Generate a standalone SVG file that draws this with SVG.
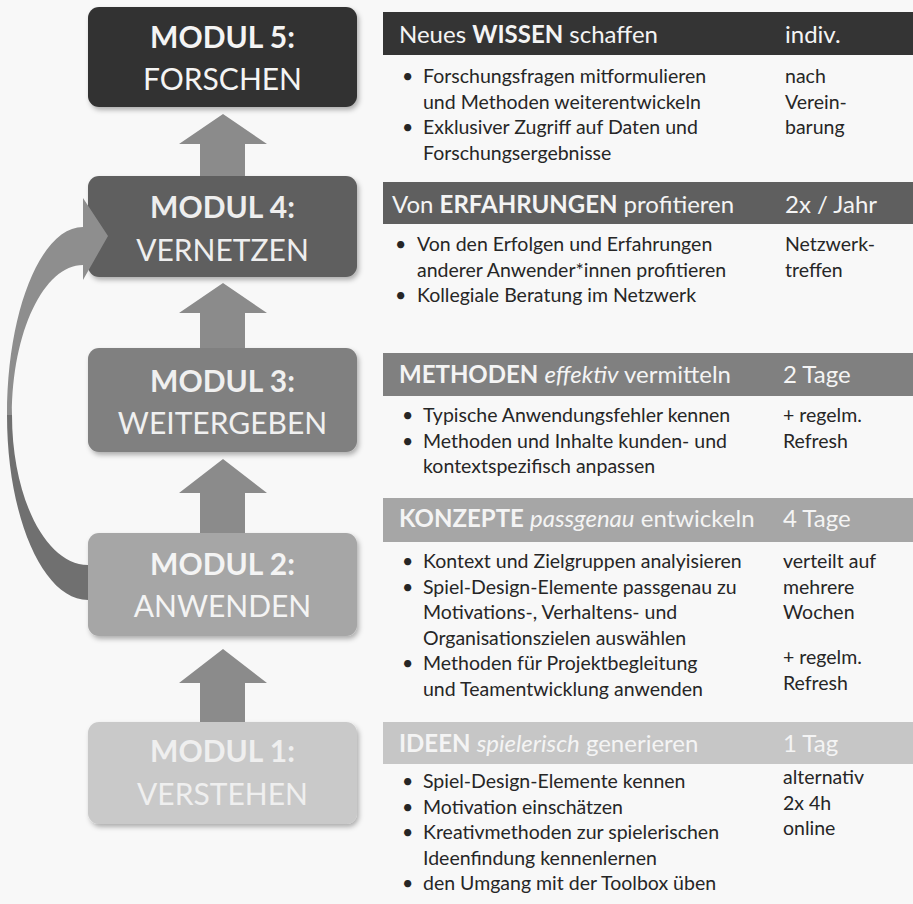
<svg xmlns="http://www.w3.org/2000/svg" width="913" height="904" viewBox="0 0 913 904">
<defs>
<filter id="sh" x="-10%" y="-10%" width="125%" height="140%"><feDropShadow dx="2" dy="3" stdDeviation="2.5" flood-color="#000" flood-opacity="0.3"/></filter>
<style>
.mb{font-family:Lato,"Open Sans",sans-serif;font-weight:bold;font-size:30px;text-anchor:middle}
.mr{font-family:Lato,"Open Sans",sans-serif;font-size:30px;text-anchor:middle}
.hd{font-family:Lato,"Open Sans",sans-serif;font-size:24px;fill:#f4f4f4}
.tx{font-family:Lato,"Open Sans",sans-serif;font-size:19.5px;fill:#262626}
.b{font-weight:bold}
.i{font-style:italic}
.arr{fill:#8b8b8b}
</style>
</defs>
<rect width="913" height="904" fill="#f8f8f8"/>

<g id="modul5">
<rect x="88" y="7" width="269" height="100" rx="11" fill="#333333" filter="url(#sh)"/>
<text class="mb" x="222.5" y="48" fill="#f4f4f4">MODUL 5:</text>
<text class="mr" x="222.5" y="90" fill="#f4f4f4">FORSCHEN</text>
</g>
<g id="modul4">
<rect x="88" y="176" width="269" height="101" rx="11" fill="#5f5f5f" filter="url(#sh)"/>
<text class="mb" x="222.5" y="218" fill="#eeeeee">MODUL 4:</text>
<text class="mr" x="222.5" y="261" fill="#eeeeee">VERNETZEN</text>
</g>
<g id="modul3">
<rect x="88" y="348" width="269" height="104" rx="11" fill="#808080" filter="url(#sh)"/>
<text class="mb" x="222.5" y="392" fill="#f0f0f0">MODUL 3:</text>
<text class="mr" x="222.5" y="434" fill="#f0f0f0">WEITERGEBEN</text>
</g>
<g id="modul2">
<rect x="88" y="533" width="269" height="103" rx="11" fill="#a6a6a6" filter="url(#sh)"/>
<text class="mb" x="222.5" y="575" fill="#f4f4f4">MODUL 2:</text>
<text class="mr" x="222.5" y="617" fill="#f4f4f4">ANWENDEN</text>
</g>
<g id="modul1">
<rect x="88" y="722" width="269" height="102" rx="11" fill="#c9c9c9" filter="url(#sh)"/>
<text class="mb" x="222.5" y="762" fill="#efefef">MODUL 1:</text>
<text class="mr" x="222.5" y="805" fill="#efefef">VERSTEHEN</text>
</g>

<g id="info5">
<rect x="383" y="12" width="530" height="43" fill="#343434"/>
<text class="hd" x="399" y="43">Neues <tspan class="b">WISSEN</tspan> schaffen</text>
<text class="hd" x="785" y="43">indiv.</text>
<text class="tx" x="402" y="83">•</text><text class="tx" x="423" y="83">Forschungsfragen mitformulieren</text>
<text class="tx" x="423" y="108.5">und Methoden weiterentwickeln</text>
<text class="tx" x="402" y="134">•</text><text class="tx" x="423" y="134">Exklusiver Zugriff auf Daten und</text>
<text class="tx" x="423" y="159.5">Forschungsergebnisse</text>
<text class="tx" x="785" y="83">nach</text>
<text class="tx" x="785" y="108.5">Verein-</text>
<text class="tx" x="785" y="134">barung</text>
</g>
<g id="info4">
<rect x="383" y="182" width="530" height="42" fill="#5f5f5f"/>
<text class="hd" x="392" y="213">Von <tspan class="b">ERFAHRUNGEN</tspan> profitieren</text>
<text class="hd" x="785" y="213">2x / Jahr</text>
<text class="tx" x="395" y="251">•</text><text class="tx" x="417" y="251">Von den Erfolgen und Erfahrungen</text>
<text class="tx" x="417" y="276.5">anderer Anwender*innen profitieren</text>
<text class="tx" x="395" y="302">•</text><text class="tx" x="417" y="302">Kollegiale Beratung im Netzwerk</text>
<text class="tx" x="785" y="251">Netzwerk-</text>
<text class="tx" x="785" y="276.5">treffen</text>
</g>
<g id="info3">
<rect x="383" y="353" width="530" height="43" fill="#808080"/>
<text class="hd" x="399" y="383"><tspan class="b">METHODEN</tspan> <tspan class="i">effektiv</tspan> vermitteln</text>
<text class="hd" x="783" y="383">2 Tage</text>
<text class="tx" x="402" y="422">•</text><text class="tx" x="423" y="422">Typische Anwendungsfehler kennen</text>
<text class="tx" x="402" y="447.5">•</text><text class="tx" x="423" y="447.5">Methoden und Inhalte kunden- und</text>
<text class="tx" x="423" y="473">kontextspezifisch anpassen</text>
<text class="tx" x="783" y="422">+ regelm.</text>
<text class="tx" x="783" y="447.5">Refresh</text>
</g>
<g id="info2">
<rect x="383" y="498" width="530" height="44" fill="#a6a6a6"/>
<text class="hd" x="399" y="527"><tspan class="b">KONZEPTE</tspan> <tspan class="i">passgenau</tspan> entwickeln</text>
<text class="hd" x="783" y="527">4 Tage</text>
<text class="tx" x="402" y="568">•</text><text class="tx" x="423" y="568">Kontext und Zielgruppen analyisieren</text>
<text class="tx" x="402" y="593.5">•</text><text class="tx" x="423" y="593.5">Spiel-Design-Elemente passgenau zu</text>
<text class="tx" x="423" y="619">Motivations-, Verhaltens- und</text>
<text class="tx" x="423" y="644.5">Organisationszielen auswählen</text>
<text class="tx" x="402" y="670">•</text><text class="tx" x="423" y="670">Methoden für Projektbegleitung</text>
<text class="tx" x="423" y="695.5">und Teamentwicklung anwenden</text>
<text class="tx" x="783" y="568">verteilt auf</text>
<text class="tx" x="783" y="593.5">mehrere</text>
<text class="tx" x="783" y="619">Wochen</text>
<text class="tx" x="783" y="664">+ regelm.</text>
<text class="tx" x="783" y="689.5">Refresh</text>
</g>
<g id="info1">
<rect x="383" y="722" width="530" height="42" fill="#c6c6c6"/>
<text class="hd" x="399" y="752"><tspan class="b">IDEEN</tspan> <tspan class="i">spielerisch</tspan> generieren</text>
<text class="hd" x="783" y="752">1 Tag</text>
<text class="tx" x="402" y="788">•</text><text class="tx" x="423" y="788">Spiel-Design-Elemente kennen</text>
<text class="tx" x="402" y="813.5">•</text><text class="tx" x="423" y="813.5">Motivation einschätzen</text>
<text class="tx" x="402" y="839">•</text><text class="tx" x="423" y="839">Kreativmethoden zur spielerischen</text>
<text class="tx" x="423" y="864.5">Ideenfindung kennenlernen</text>
<text class="tx" x="402" y="890">•</text><text class="tx" x="423" y="890">den Umgang mit der Toolbox üben</text>
<text class="tx" x="783" y="784">alternativ</text>
<text class="tx" x="783" y="809.5">2x 4h</text>
<text class="tx" x="783" y="835">online</text>
</g>

<g id="connectors">
<path class="arr" d="M223,114 L267,144 L245,144 L245,176 L200,176 L200,144 L179,144 Z"/>
<path class="arr" d="M223,283 L267,313 L245,313 L245,348 L200,348 L200,313 L179,313 Z"/>
<path class="arr" d="M223,459 L267,493 L245,493 L245,533 L200,533 L200,493 L179,493 Z"/>
<path class="arr" d="M223,649 L267,683 L245,683 L245,722 L200,722 L200,683 L179,683 Z"/>
<path d="M7,415 C7,517 43,600 88,600 L88,565 C46,565 12,498 12,415 Z" fill="#707070"/>
<path d="M7,415 C7,311 41,227 83,227 L83,198 L108,236 L83,280 L83,265 C44,265 12,332 12,415 Z" fill="#8e8e8e"/>
</g>
</svg>
